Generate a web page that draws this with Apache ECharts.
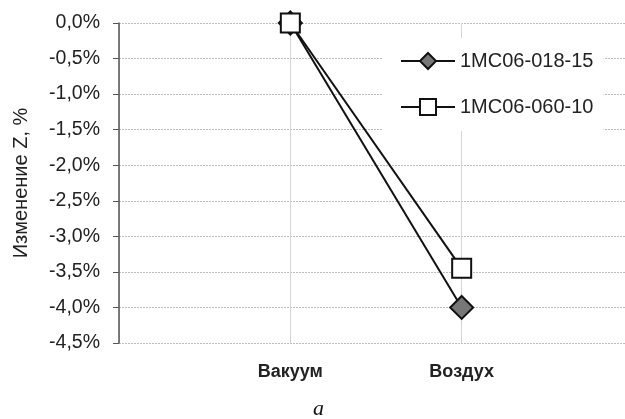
<!DOCTYPE html>
<html><head><meta charset="utf-8">
<script src="https://cdn.jsdelivr.net/npm/echarts@6/dist/echarts.min.js"></script>
<style>html,body{margin:0;padding:0;background:#fff}#c{width:625px;height:419px}</style>
</head><body><div id="c"></div>
<script>
var categories = ['', 'Вакуум', 'Воздух', ''];
var seriesNames = ['1MC06-018-15', '1MC06-060-10'];
var values018 = [null, 0.0, -4.0, null];
var values060 = [null, 0.0, -3.45, null];
var yTitle = 'Изменение Z, %';
var caption = 'a';

var chart = echarts.init(document.getElementById('c'), null, {renderer: 'canvas'});
chart.setOption({
  animation: false,
  backgroundColor: '#fff',
  grid: {left: 119, top: 23, width: 514, height: 320, containLabel: false, outerBoundsMode: 'none'},
  xAxis: {
    type: 'category', data: categories, boundaryGap: false,
    axisLine: {show: false}, axisTick: {show: false},
    axisLabel: {color: '#222', fontSize: 18, fontFamily: 'Liberation Sans, Arial', fontWeight: 'bold', margin: 20},
    splitLine: {show: true, lineStyle: {color: '#d4d4d4', width: 1}}
  },
  yAxis: {
    type: 'value', min: -4.5, max: 0, interval: 0.5,
    name: yTitle, nameLocation: 'middle', nameGap: 88,
    nameTextStyle: {color: '#222', fontSize: 20, fontFamily: 'Liberation Sans, Arial'},
    axisLine: {show: true, lineStyle: {color: '#555', width: 1.5}},
    axisTick: {show: true, length: 6, lineStyle: {color: '#555'}},
    axisLabel: {color: '#222', fontSize: 19.5, fontFamily: 'Liberation Sans, Arial', margin: 19,
      formatter: function (v) { return v.toFixed(1).replace('.', ',') + '%'; }},
    splitLine: {show: true, lineStyle: {color: '#bdbdbd', width: 1, type: [2, 1]}}
  },
  legend: {
    orient: 'vertical', left: 382, top: 38, width: 231,
    backgroundColor: '#fff', padding: [13, 10, 14, 18],
    itemWidth: 54, itemHeight: 20, itemGap: 26,
    textStyle: {color: '#222', fontSize: 20, fontFamily: 'Liberation Sans, Arial'},
    data: seriesNames
  },
  series: [
    {name: seriesNames[0], type: 'line', data: values018, symbol: 'diamond', symbolSize: 23,
      lineStyle: {color: '#111', width: 2}, itemStyle: {color: '#777', borderColor: '#111', borderWidth: 2}, z: 3},
    {name: seriesNames[1], type: 'line', data: values060, symbol: 'rect', symbolSize: 19,
      lineStyle: {color: '#111', width: 2}, itemStyle: {color: '#fff', borderColor: '#111', borderWidth: 2}, z: 4}
  ],
  graphic: [{type: 'text', left: 313, top: 398, style: {text: caption, fontSize: 22, fontStyle: 'italic', fontFamily: 'Liberation Serif, Times New Roman', fill: '#111'}}]
});
</script></body></html>
